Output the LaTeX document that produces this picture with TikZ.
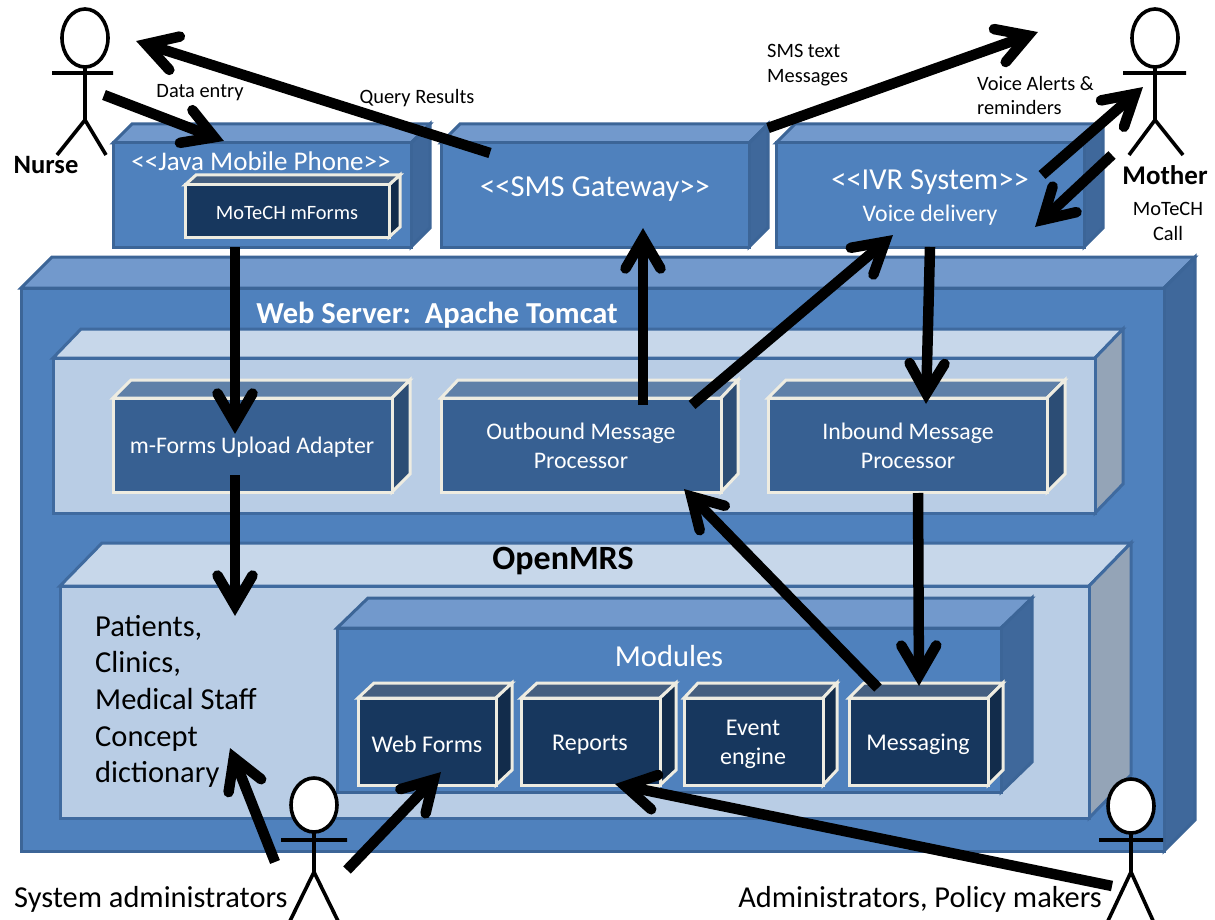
\documentclass[tikz,border=0pt]{standalone}
\usepackage{fontspec}
\setmainfont{Carlito}
\usetikzlibrary{arrows.meta}
\definecolor{blueF}{HTML}{4F81BD}\definecolor{blueT}{HTML}{7299CC}\definecolor{blueS}{HTML}{3F689B}\definecolor{blueL}{HTML}{3C6597}
\definecolor{lightF}{HTML}{B9CDE5}\definecolor{lightT}{HTML}{C7D7EA}\definecolor{lightS}{HTML}{94A4B7}\definecolor{lightL}{HTML}{3F6A9F}
\definecolor{midF}{HTML}{376092}\definecolor{midT}{HTML}{5F80A8}\definecolor{midS}{HTML}{2C4D75}\definecolor{midL}{HTML}{EEECE1}
\definecolor{darkF}{HTML}{17375E}\definecolor{darkT}{HTML}{455F80}\definecolor{darkS}{HTML}{122C4B}\definecolor{darkL}{HTML}{EEECE1}
% open PowerPoint-style arrow head
\pgfdeclarearrow{
  name=OpenHead,
  setup code={
    \pgfarrowssettipend{9.5pt}
    \pgfarrowssetlineend{0pt}
    \pgfarrowssetvisualbackend{-20pt}
    \pgfarrowssetbackend{-36pt}
    \pgfarrowshullpoint{9.5pt}{0pt}
    \pgfarrowshullpoint{-36pt}{24pt}
    \pgfarrowshullpoint{-36pt}{-24pt}
  },
  drawing code={
    \pgfsetlinewidth{10.5pt}
    \pgfsetroundcap
    \pgfsetmiterjoin
    \pgfsetmiterlimit{10}
    \pgfpathmoveto{\pgfpoint{-31pt}{17.5pt}}
    \pgfpathlineto{\pgfpoint{-1pt}{0pt}}
    \pgfpathlineto{\pgfpoint{-31pt}{-17.5pt}}
    \pgfusepathqstroke
  },
  defaults={}
}
\newcommand{\fsz}[2]{\fontsize{#1}{#2}\selectfont}
\newcommand{\dlt}{<\kern0pt<}
\newcommand{\dgt}{>\kern0pt>}
\tikzset{
  flow/.style={line width=10.5pt,draw=black,-{OpenHead}},
  stick/.style={line width=3.6pt,draw=black},
  wlabel/.style={text=white,align=center,inner sep=0pt},
  blabel/.style={text=black,align=center,inner sep=0pt},
  llabel/.style={text=black,align=left,inner sep=0pt},
}
% \cube{kind}{name}{x0}{y0}{x1}{y1}{dx}{dy}
\newcommand{\cube}[8]{%
  \draw[line width=3pt,line join=miter,draw=#1L,fill=#1T] (#3,#4) -- (#3+#7,#4-#8) -- (#5+#7,#4-#8) -- (#5,#4) -- cycle;
  \draw[line width=3pt,line join=miter,draw=#1L,fill=#1S] (#5,#4) -- (#5+#7,#4-#8) -- (#5+#7,#6-#8) -- (#5,#6) -- cycle;
  \node[draw=#1L,fill=#1F,line width=3pt,inner sep=0pt,outer sep=0pt,minimum width={#5-#3},minimum height={#6-#4}] (#2) at ({(#3+#5)/2},{(#4+#6)/2}) {};
}
\begin{document}
\begin{tikzpicture}[x=1pt,y=-1pt]
\useasboundingbox (0,0) rectangle (1215,920);
\fill[white] (0,0) rectangle (1215,920);
% boxes
\cube{blue}{phone}{113}{143}{411}{247}{19}{19}
\cube{blue}{sms}{441}{143}{749}{247}{19}{19}
\cube{blue}{ivr}{776}{143}{1084}{247}{19}{19}
\cube{dark}{mforms}{185}{185}{389}{237}{11}{10}
\cube{blue}{web}{21}{288}{1164}{851}{31}{31}
\cube{light}{tier}{53}{358}{1095}{513}{28}{29}
\cube{mid}{upload}{113}{398}{392}{492}{18}{18}
\cube{mid}{outbound}{441}{398}{721}{492}{17}{18}
\cube{mid}{inbound}{768}{398}{1047}{492}{18}{18}
\cube{light}{openmrs}{60}{586}{1089}{818}{42}{43}
\cube{blue}{modules}{337}{628}{1001}{792}{31}{30}
\cube{dark}{webforms}{358}{698}{496}{785}{16}{15}
\cube{dark}{reports}{521}{698}{660}{785}{16}{15}
\cube{dark}{event}{684}{698}{823}{785}{14}{15}
\cube{dark}{messaging}{849}{698}{988}{785}{15}{15}
% box texts
\node[wlabel,font=\fsz{27}{27}] (tPhone) at (261,161) {\dlt Java Mobile Phone\dgt};
\node[wlabel,font=\fsz{20.4}{20.4}] (tForms) at (287,213) {MoTeCH mForms};
\node[wlabel,font=\fsz{30.5}{30.5}] (tSms) at (595,189) {\dlt SMS Gateway\dgt};
\node[wlabel,font=\fsz{30.5}{30.5}] (tIvr) at (930,182) {\dlt IVR System\dgt};
\node[wlabel,font=\fsz{23.8}{23.8}] (tVoice) at (930,215) {Voice delivery};
\node[wlabel,font=\fsz{30.5}{30.5}\bfseries] (tWeb) at (437,315) {Web Server:\ \ Apache Tomcat};
\node[wlabel,font=\fsz{23.8}{23.8}] (tUpload) at (252,447) {m-Forms Upload Adapter};
\node[wlabel,font=\fsz{23.8}{29.5}] (tOut) at (581,446) {Outbound Message\\Processor};
\node[wlabel,font=\fsz{23.8}{29.5}] (tIn) at (908,446) {Inbound Message\\Processor};
\node[blabel,font=\fsz{34}{34}\bfseries] (tMrs) at (563,561) {OpenMRS};
\node[llabel,anchor=north west,font=\fsz{30.5}{36.6}] (tPat) at (95,615) {Patients,\\Clinics,\\Medical Staff\\Concept\\dictionary};
\node[wlabel,font=\fsz{30.5}{30.5}] (tMod) at (669,656) {Modules};
\node[wlabel,font=\fsz{24}{24}] (tWF) at (427,744) {Web Forms};
\node[wlabel,font=\fsz{24}{24}] (tRep) at (590,745) {Reports};
\node[wlabel,font=\fsz{24}{29}] (tEv) at (753,744) {Event\\engine};
\node[wlabel,font=\fsz{24}{24}] (tMsg) at (918,744) {Messaging};
% outer labels
\node[blabel,font=\fsz{20.4}{20.4}] (lData) at (200,93) {Data entry};
\node[blabel,font=\fsz{20.4}{20.4}] (lQuery) at (417,98) {Query Results};
\node[llabel,anchor=west,font=\fsz{20.4}{25}] (lSms) at (767,65) {SMS text\\Messages};
\node[llabel,anchor=west,font=\fsz{20.4}{24}] (lVoice) at (977,95) {Voice Alerts \&\\reminders};
\node[blabel,font=\fsz{26.5}{26.5}\bfseries] (lNurse) at (46,165) {Nurse};
\node[blabel,font=\fsz{27}{27}\bfseries] (lMother) at (1165,175) {Mother};
\node[blabel,font=\fsz{20.4}{25}] (lCall) at (1168,221) {MoTeCH\\Call};
\node[llabel,anchor=west,font=\fsz{30.4}{30.4}] (lSys) at (14,899) {System administrators};
\node[llabel,anchor=east,font=\fsz{30.4}{30.4}] (lAdm) at (1102,899) {Administrators, Policy makers};
% actors
\begin{scope}[stick]
  \draw (85,38) ellipse [x radius=23,y radius=29];
  \draw (85,67) -- (85,120) (52,73) -- (113,73) (57,155) -- (85,120) -- (106,155);
  \draw (1155,38) ellipse [x radius=23,y radius=29];
  \draw (1155,67) -- (1155,120) (1123,73) -- (1186,73) (1129,155) -- (1155,120) -- (1183,155);
  \draw[fill=white] (314,805) ellipse [x radius=23,y radius=27];
  \draw (314,832) -- (314,872) (281,840) -- (347,840) (288,925) -- (314,872) -- (340,925);
  \draw[fill=white] (1131,806) ellipse [x radius=23,y radius=27];
  \draw (1131,833) -- (1131,872) (1099,840) -- (1163,840) (1106,925) -- (1131,872) -- (1155,925);
\end{scope}
% connector ends
\coordinate (nurseOut) at (104,95);     \coordinate (phoneIn) at (224,141);
\coordinate (smsOut) at (490,153);      \coordinate (nurseIn) at (136,41);
\coordinate (smsTop) at (768,128);      \coordinate (motherFar) at (1038,32);
\coordinate (ivrUp) at (1042,175);      \coordinate (motherIn) at (1143,87);
\coordinate (motherOut) at (1112,155);  \coordinate (ivrIn) at (1035,227);
\coordinate (phoneOut) at (235,247);    \coordinate (uploadIn) at (235,434);
\coordinate (uploadOut) at (235,475);   \coordinate (patientsIn) at (235,616);
\coordinate (outUp) at (643,405);       \coordinate (smsIn) at (643,228);
\coordinate (outRight) at (692,405);    \coordinate (ivrLow) at (893,235);
\coordinate (ivrOut) at (930,247);      \coordinate (inboundIn) at (926,404);
\coordinate (inboundOut) at (918,493);  \coordinate (messagingIn) at (919,686);
\coordinate (messagingOut) at (878,688);\coordinate (outboundIn) at (684,489);
\coordinate (sysA) at (275,862);        \coordinate (patientsLow) at (230,748);
\coordinate (sysB) at (347,870);        \coordinate (webformsIn) at (441,772);
\coordinate (admOut) at (1112,886);     \coordinate (reportsIn) at (615,784);
% connectors
\draw[flow] (nurseOut) -- (phoneIn);
\draw[flow] (smsOut) -- (nurseIn);
\draw[flow] (smsTop) -- (motherFar);
\draw[flow] (ivrUp) -- (motherIn);
\draw[flow] (motherOut) -- (ivrIn);
\draw[flow] (phoneOut) -- (uploadIn);
\draw[flow] (uploadOut) -- (patientsIn);
\draw[flow] (outUp) -- (smsIn);
\draw[flow] (outRight) -- (ivrLow);
\draw[flow] (ivrOut) -- (inboundIn);
\draw[flow] (inboundOut) -- (messagingIn);
\draw[flow] (messagingOut) -- (outboundIn);
\draw[flow] (sysA) -- (patientsLow);
\draw[flow] (sysB) -- (webformsIn);
\draw[flow] (admOut) -- (reportsIn);
\end{tikzpicture}
\end{document}
